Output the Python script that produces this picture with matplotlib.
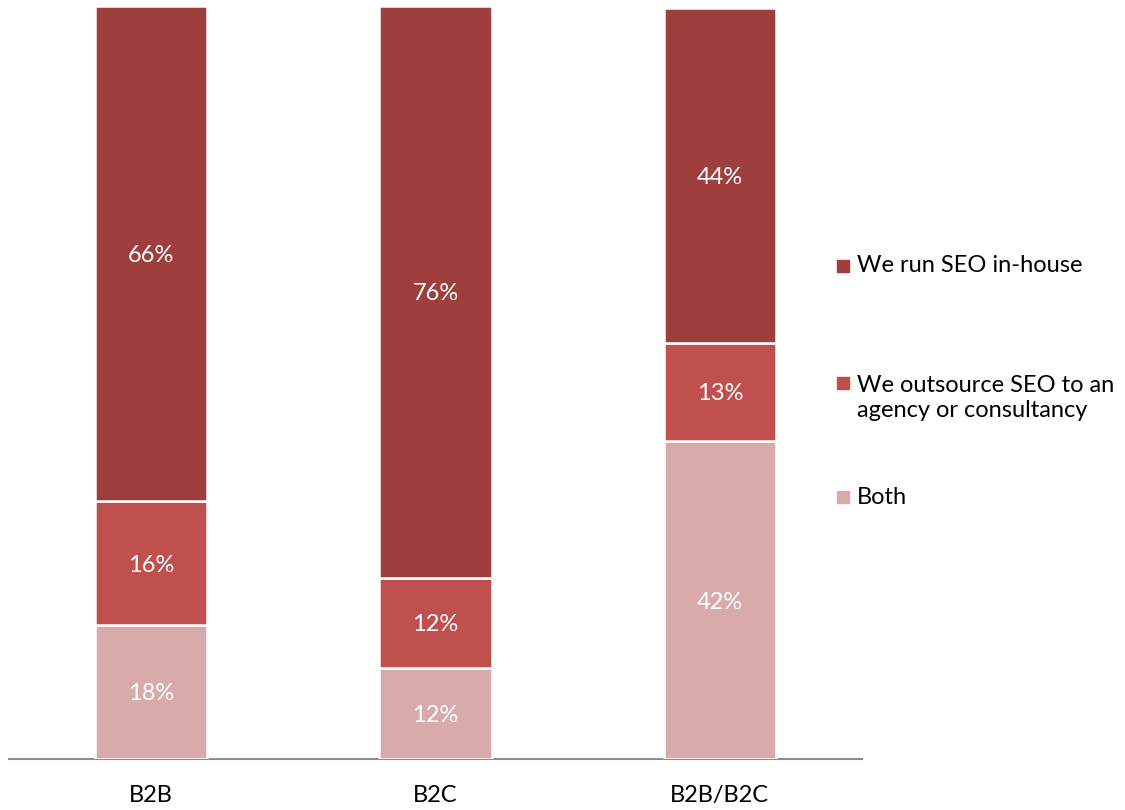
import matplotlib.pyplot as plt
from matplotlib.patches import Rectangle
import numpy as np

plt.rcParams['font.family'] = ['Lato', 'DejaVu Sans']

categories = ['B2B', 'B2C', 'B2B/B2C']
both = [17.8, 12.1, 42.2]
outsource = [16.4, 12.0, 13.1]
inhouse = [65.8, 75.9, 44.4]

series = [('Both', both, '#D9AAAA'),
          ('We outsource SEO to an\nagency or consultancy', outsource, '#C0504D'),
          ('We run SEO in-house', inhouse, '#9E3F3D')]

fig = plt.figure(figsize=(11.25, 8.1), dpi=100)
ax = fig.add_axes([9/1125, 1-759/810, 853/1125, 753/810])

x = np.arange(len(categories))
bottom = np.zeros(len(categories))
for name, vals, col in series:
    bars = ax.bar(x, vals, width=0.394, bottom=bottom, color=col,
                  edgecolor='white', linewidth=1.8, zorder=3)
    for xi, b, v in zip(x, bottom, vals):
        ax.text(xi, b + v/2, '%.0f%%' % v, ha='center', va='center_baseline',
                color='white', fontsize=17, zorder=4)
    bottom += np.array(vals)

ax.set_xlim(-0.5, 2.5)
ax.set_ylim(0, 100)
ax.set_yticks([])
ax.set_xticks(x)
ax.set_xticklabels(categories, fontsize=17)
ax.tick_params(axis='x', length=0, pad=19)
for s in ['top', 'right', 'left']:
    ax.spines[s].set_visible(False)
ax.spines['bottom'].set_color('#8C8C8C')
ax.spines['bottom'].set_linewidth(1.5)

# legend drawn by hand to keep Excel spacing
leg = [('We run SEO in-house', '#9E3F3D', 266, 266),
       ('We outsource SEO to an\nagency or consultancy', '#C0504D', 383, 398),
       ('Both', '#D9AAAA', 497, 497)]
for lab, col, ysq, ytxt in leg:
    fig.patches.append(Rectangle((837/1125, 1-(ysq+6)/810), 12/1125, 12/810,
                                 transform=fig.transFigure, color=col))
    fig.text(857/1125, 1-ytxt/810, lab, ha='left', va='center',
             fontsize=17, linespacing=1.25)

fig.savefig('out.png', dpi=100)
plt.close('all')
